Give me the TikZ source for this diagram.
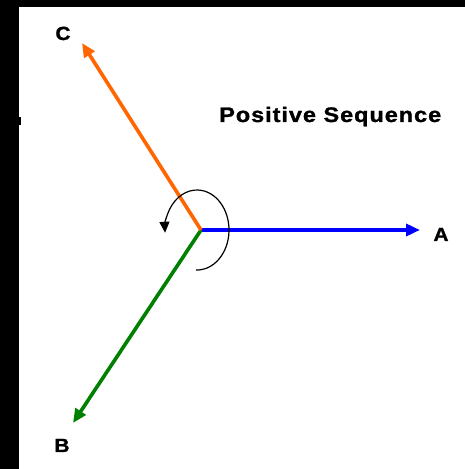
\documentclass[tikz,border=0pt]{standalone}
\usepackage{fontspec}
\newfontfamily\lblfont{Liberation Sans}[FakeStretch=1.1,FakeBold=1.2]
\newfontfamily\ttlfont{Liberation Sans}[FakeStretch=1.12,LetterSpace=4.5,FakeBold=1.2]
\usetikzlibrary{arrows.meta}
\definecolor{phA}{RGB}{0,0,255}
\definecolor{phB}{RGB}{0,128,0}
\definecolor{phC}{RGB}{255,102,0}
\begin{document}
\begin{tikzpicture}[x=1pt,y=1pt,
  phasor/.style={line width=3.6pt,-{Triangle[length=14pt,width=12pt]}},
  lbl/.style={font=\lblfont\bfseries\fontsize{19}{20}\selectfont,inner sep=0pt,anchor=base},
  ttl/.style={font=\ttlfont\bfseries\fontsize{21}{24}\selectfont,inner sep=0pt,anchor=base west}]
\useasboundingbox (0,0) rectangle (465,469);
\fill[white] (0,0) rectangle (465,469);
\fill[black] (0,0) rectangle (19,469);
\fill[black] (0,462) rectangle (465,469);
\fill[black] (19,344) rectangle (21,352);
% phasors
\coordinate (O) at (201,239);
\coordinate (tA) at (420,239);
\coordinate (tB) at (73,46);
\coordinate (tC) at (82,426);
\draw[phasor,phA] (O) -- (tA);
\draw[phasor,phB] (O) -- (tB);
\draw[phasor,phC] (O) -- (tC);
% labels
\node[lbl] (lA) at (441,228) {A};
\node[lbl] (lB) at (62,17) {B};
\node[lbl] (lC) at (63,429) {C};
\node[ttl] (title) at (219,347) {Positive Sequence};
% rotation arrow
\coordinate (rc) at (197,239);
\draw[line width=1.2pt,-{Triangle[length=11pt,width=10pt]}]
  ([shift={(-92:32pt and 40pt)}]rc) arc[start angle=-92,end angle=184,x radius=32pt,y radius=40pt];
\end{tikzpicture}
\end{document}
